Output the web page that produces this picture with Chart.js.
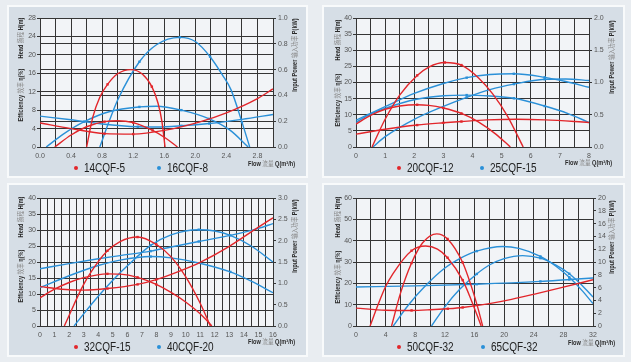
<!DOCTYPE html>
<html><head><meta charset="utf-8">
<script src="https://cdn.jsdelivr.net/npm/chart.js@4.4.1/dist/chart.umd.min.js"></script>
<style>
html,body{margin:0;padding:0;background:#e9edf1;width:631px;height:362px;overflow:hidden;}
.panel{position:absolute;box-sizing:border-box;background:#d6dee6;border:2px solid #f8fafb;}
canvas{position:absolute;}
</style></head><body>
<div class="panel" style="left:7px;top:5px;width:301px;height:173px"></div>
<div class="panel" style="left:322px;top:5px;width:303px;height:173px"></div>
<div class="panel" style="left:7px;top:183px;width:301px;height:174px"></div>
<div class="panel" style="left:322px;top:183px;width:303px;height:174px"></div>
<canvas id="c1" width="301" height="173" style="left:7px;top:5px"></canvas>
<canvas id="c2" width="303" height="173" style="left:322px;top:5px"></canvas>
<canvas id="c3" width="301" height="174" style="left:7px;top:183px"></canvas>
<canvas id="c4" width="303" height="174" style="left:322px;top:183px"></canvas>
<script>
// ---------- DATA (flow Q, value on left axis) ----------
const legend1 = ['14CQF-5', '16CQF-8'];
const legend2 = ['20CQF-12', '25CQF-15'];
const legend3 = ['32CQF-15', '40CQF-20'];
const legend4 = ['50CQF-32', '65CQF-32'];

const p1RedA = [[0.6,0],[0.68,6.5],[0.77,10.8],[0.87,13.6],[1.0,15.9],[1.17,16.8],[1.32,15.8],[1.44,13.1],[1.52,9.5],[1.57,5.5],[1.61,0]];
const p1RedB = [[0.19,0],[0.4,2.6],[0.6,4.4],[0.83,5.5],[1.0,5.7],[1.2,5.3],[1.45,3.6],[1.62,1.9],[1.77,0]];
const p1RedC = [[0,5.2],[0.4,4.0],[0.83,2.9],[1.2,2.8],[1.6,3.6],[2.06,5.45],[2.4,7.4],[2.8,10.5],[3.0,12.6]];
const p1BlueA = [[0.77,0],[0.9,6],[1.0,10.2],[1.28,18.5],[1.5,22.2],[1.8,23.8],[2.0,22.9],[2.19,19.6],[2.35,15.6],[2.46,12.4],[2.6,5.4],[2.7,0]];
const p1BlueB = [[0.08,0],[0.3,2.8],[0.57,5.5],[0.9,7.7],[1.28,8.7],[1.5,8.85],[1.82,8.0],[2.18,6.1],[2.45,3.6],[2.68,0]];
const p1BlueC = [[0,6.7],[0.4,5.9],[0.8,5.0],[1.26,4.4],[1.5,4.35],[1.82,4.6],[2.18,5.1],[2.6,6.0],[3.0,7.05]];

const p2RedA = [[0.55,0],[1.0,8.6],[1.5,16.1],[2.1,22.2],[2.5,24.8],[3.05,26.2],[3.62,25.4],[4.2,21.5],[4.7,16.4],[5.2,9.6],[5.74,0]];
const p2RedB = [[0,7.1],[0.5,9.8],[1.0,11.7],[1.5,12.7],[2.1,13.1],[2.5,12.9],[3.0,12.1],[3.62,10.4],[4.2,7.8],[4.8,4.0],[5.3,0]];
const p2RedC = [[0,4.0],[1.0,5.5],[2.1,6.8],[3.0,7.5],[3.62,7.9],[4.5,8.4],[5.5,8.6],[6.5,8.4],[8,7.6]];
const p2BlueA = [[0,8.3],[1,12.5],[2,16.6],[3,19.7],[3.8,21.5],[4.6,22.5],[5.42,22.7],[6.48,21.6],[7.2,20.3],[8,18.5]];
const p2BlueB = [[0,7.6],[0.42,9.9],[1,12.0],[2.08,14.8],[3,15.9],[3.8,16.1],[4.6,15.8],[5.42,15.1],[6.48,12.7],[7.3,10.3],[8,7.6]];
const p2BlueC = [[0.58,0],[1,3.2],[2,8.6],[3,12.6],[3.8,15.4],[4.6,17.8],[5.42,19.5],[6.48,21],[7.2,21.1],[8,20.6]];

const p3RedA = [[1.67,0],[3,13],[4,20.1],[4.63,23.5],[5.5,26.4],[6.7,27.8],[7.98,25.5],[9,21.6],[10,15.4],[11,7.1],[11.7,0]];
const p3RedB = [[0,8.8],[1,11.5],[2,13.6],[3,15.1],[4.63,16.3],[5.5,16.2],[6.7,15.2],[7.98,13],[9,10.5],[10,7.5],[11,3.8],[11.8,0]];
const p3RedC = [[0,12.3],[1.5,11.5],[3,11.2],[4.63,11.7],[6.7,13],[7.98,14.5],[9.5,17],[11,19.9],[13,24.9],[15,30.9],[16,33.8]];
const p3BlueA = [[0,17.9],[2,19.5],[4,21],[5.5,22],[7.6,23.4],[9,24.7],[10.9,26.4],[13.07,28.3],[15,30.5],[16,32]];
const p3BlueB = [[0,12],[2,15.7],[4,18.9],[5.5,20.6],[7.6,21.7],[9,21.3],[10.9,19.7],[13.07,16.9],[14.5,14],[16,10.4]];
const p3BlueC = [[2.34,0],[3,3.8],[4,9.3],[5,14.3],[6,18.8],[7.6,25.2],[9,28.5],[10.9,30.1],[12,29.7],[13.07,28.3],[14.5,25],[16,20]];

const p4RedA = [[4.8,0],[6,15.3],[7.5,29.5],[9,39],[10.9,43.2],[12.36,40.8],[14.4,29.8],[15.5,19.4],[16.4,9.2],[17.1,0]];
const p4RedB = [[1.9,0],[3,10.2],[4,18.5],[5,24.6],[7.5,35.3],[9.4,37.5],[11,36],[12.36,32],[14.4,21.5],[15.5,12.7],[16.9,0]];
const p4RedC = [[0,8.4],[4,7.4],[7.5,7.3],[10,7.6],[12.4,8.1],[14.4,8.7],[18,10.5],[21,12.5],[24.4,15.2],[28,18.2],[32,21.7]];
const p4BlueA = [[10.2,0],[12,9],[14,17.2],[16.3,24.4],[18,28.6],[20,31.6],[22.5,33],[24.9,31.8],[27,28.5],[28.8,24.5],[30.5,19.1],[32,13.6]];
const p4BlueB = [[5.03,0],[7,9.5],[9.5,19.3],[12,27.2],[14,31.6],[16.3,35.1],[19.8,37.3],[22,36.4],[24.9,32.6],[27,28],[28.8,22.8],[30.5,16.7],[32,10.5]];
const p4BlueC = [[0,18.3],[8,18.8],[16.3,19.6],[24.9,20.9],[28.8,21.8],[32,22.5]];

// axis ranges / ticks
const p1Axes = {xMax:3.0, xStep:0.2, xLabel:0.4, xDig:1, yMax:28, yStep:4, rMax:1.0, rStep:0.2, rDig:1};
const p2Axes = {xMax:8, xStep:0.5, xLabel:1, xDig:0, yMax:40, yStep:5, rMax:2.0, rStep:0.5, rDig:1};
const p3Axes = {xMax:16, xStep:0.5, xLabel:1, xDig:0, yMax:40, yStep:5, rMax:3.0, rStep:0.5, rDig:1};
const p4Axes = {xMax:32, xStep:2, xLabel:4, xDig:0, yMax:60, yStep:5, rMax:20, rStep:2, rDig:0};

// ---------- STYLE / LAYOUT ----------
const RED = '#e2262b', BLUE = '#2a90d8';
const FONT = "'Liberation Sans', Arial, 'Noto Sans CJK SC', sans-serif";
const GRID = '#353535';

function drawSegs(ctx, cx, cy, segs, size, rot, sx, align){
  ctx.save();
  ctx.translate(cx, cy);
  if (rot) ctx.rotate(rot);
  ctx.scale(sx, 1);
  let total = 0;
  segs.forEach(s => { ctx.font = (s[2] ? 'bold ' : '') + size + 'px ' + FONT; total += ctx.measureText(s[0]).width; });
  let x = align === 'center' ? -total/2 : (align === 'right' ? -total : 0);
  ctx.textBaseline = 'middle';
  ctx.textAlign = 'left';
  segs.forEach(s => {
    ctx.font = (s[2] ? 'bold ' : '') + size + 'px ' + FONT;
    ctx.fillStyle = s[1];
    ctx.fillText(s[0], x, 0);
    x += ctx.measureText(s[0]).width;
  });
  ctx.restore();
}

const DARK = '#2a2a2a', GREY = '#8a8a8a';
const headSegs = [['Head ', DARK, true], ['扬程 ', GREY, false], ['H(m)', DARK, true]];
const effSegs = [['Efficiency ', DARK, true], ['效率 ', GREY, false], ['η(%)', DARK, true]];
const powSegs = [['Input Power ', DARK, true], ['输入功率 ', GREY, false], ['P(kW)', DARK, true]];
const flowSegs = [['Flow ', DARK, true], ['流量 ', GREY, false], ['Q(m³/h)', DARK, true]];

function makeChart(id, axes, area, curves, names, lay, rGrid){
  const cv = document.getElementById(id);
  const W = cv.width, H = cv.height;
  const datasets = curves.map(c => ({
    data: c.pts.map(p => ({x:p[0], y:p[1]})),
    borderColor: c.color,
    borderWidth: 1.4,
    pointRadius: ctx => c.marks.includes(ctx.dataIndex) ? 1.7 : 0,
    pointStyle: 'rect',
    pointBackgroundColor: c.color,
    pointBorderWidth: 0,
    cubicInterpolationMode: 'monotone',
    fill: false,
    yAxisID: 'y'
  }));
  const isMult = (v, s) => Math.abs(v/s - Math.round(v/s)) < 1e-6;
  const tickFont = {family: FONT, size: 7};
  const plugin = {
    id: 'deco',
    beforeDraw(chart){
      const {ctx, chartArea: a} = chart;
      ctx.save(); ctx.fillStyle = '#f2f4f7';
      ctx.fillRect(a.left, a.top, a.right - a.left, a.bottom - a.top);
      ctx.restore();
    },
    afterDraw(chart){
      const ctx = chart.ctx;
      drawSegs(ctx, lay.tx, lay.head, headSegs, 7, -Math.PI/2, 0.8, 'center');
      drawSegs(ctx, lay.tx, lay.eff, effSegs, 7, -Math.PI/2, 0.8, 'center');
      drawSegs(ctx, lay.rx, lay.pow, powSegs, 7, -Math.PI/2, 0.8, 'center');
      drawSegs(ctx, lay.fx, lay.fy, flowSegs, 7, 0, 0.8, 'right');
      [[lay.d1, RED, names[0]], [lay.d2, BLUE, names[1]]].forEach(([dx, col, txt]) => {
        ctx.save(); ctx.fillStyle = col; ctx.beginPath(); ctx.arc(dx, lay.ly, 2, 0, Math.PI*2); ctx.fill(); ctx.restore();
        drawSegs(ctx, dx + 8, lay.ly + 0.5, [[txt, '#222', false]], 12.5, 0, 0.8, 'left');
      });
    }
  };
  return new Chart(cv, {
    type: 'line',
    data: {datasets},
    plugins: [plugin],
    options: {
      responsive: false, animation: false, events: [],
      layout: {padding: {top: area.t, left: 0, right: 0, bottom: 0}},
      plugins: {legend: {display: false}, tooltip: {enabled: false}},
      scales: {
        x: {
          type: 'linear', min: 0, max: axes.xMax,
          afterFit: s => { s.height = H - area.b; },
          grid: {color: GRID, lineWidth: 1, drawTicks: false},
          border: {color: GRID},
          ticks: {stepSize: axes.xStep, autoSkip: false, maxRotation: 0, padding: 5, color: '#555', font: tickFont,
            callback: v => isMult(v, axes.xLabel) ? v.toFixed(axes.xDig) : ''}
        },
        y: {
          type: 'linear', position: 'left', min: 0, max: axes.yMax,
          afterFit: s => { s.width = area.l; },
          grid: {color: GRID, lineWidth: 1, tickLength: 3},
          border: {color: GRID},
          ticks: {stepSize: axes.yStep, padding: 1, color: '#555', font: tickFont}
        },
        r: {
          type: 'linear', position: 'right', min: 0, max: axes.rMax,
          afterFit: s => { s.width = W - area.r; },
          grid: {color: GRID, lineWidth: 1, tickLength: 3, drawOnChartArea: rGrid},
          border: {color: GRID},
          ticks: {stepSize: axes.rStep, padding: 2, color: '#555', font: tickFont,
            callback: v => v.toFixed(axes.rDig)}
        }
      }
    }
  });
}

function curvesOf(ra, rb, rc, ba, bb, bc, m){
  return [
    {pts: ra, color: RED, marks: m[0]}, {pts: rb, color: RED, marks: m[1]}, {pts: rc, color: RED, marks: m[2]},
    {pts: ba, color: BLUE, marks: m[3]}, {pts: bb, color: BLUE, marks: m[4]}, {pts: bc, color: BLUE, marks: m[5]}
  ];
}

makeChart('c1', p1Axes, {l:33, t:13, r:266, b:142},
  curvesOf(p1RedA, p1RedB, p1RedC, p1BlueA, p1BlueB, p1BlueC, [[3,7],[3,5,6],[2,3],[3,5,7,10],[2,4,6,7],[3,5,6]]),
  legend1, {tx:14, head:33, eff:90, rx:288, pow:50, fx:288, fy:159, d1:69, d2:152, ly:163}, true);

makeChart('c2', p2Axes, {l:34, t:13, r:267, b:142},
  curvesOf(p2RedA, p2RedB, p2RedC, p2BlueA, p2BlueB, p2BlueC, [[3,5,6],[4,6,7],[2,3,4],[4,6,7],[1,5,7,8],[4,6,7]]),
  legend2, {tx:16, head:35, eff:95, rx:290, pow:52, fx:290, fy:158, d1:77, d2:160, ly:163}, true);

makeChart('c3', p3Axes, {l:33, t:15, r:266, b:143},
  curvesOf(p3RedA, p3RedB, p3RedC, p3BlueA, p3BlueB, p3BlueC, [[3,5,6],[4,6,7],[3,4,5],[4,6,7],[4,7],[5,7]]),
  legend3, {tx:14, head:34, eff:93, rx:288, pow:53, fx:288, fy:159, d1:69, d2:152, ly:164}, false);

makeChart('c4', p4Axes, {l:34, t:15, r:271, b:143},
  curvesOf(p4RedA, p4RedB, p4RedC, p4BlueA, p4BlueB, p4BlueC, [[2,5,6],[4,7,8],[2,4,5],[3,7,9],[5,8,10],[2,3,4]]),
  legend4, {tx:16, head:34, eff:94, rx:290, pow:54, fx:293, fy:160, d1:77, d2:161, ly:164}, false);
</script>
</body></html>
